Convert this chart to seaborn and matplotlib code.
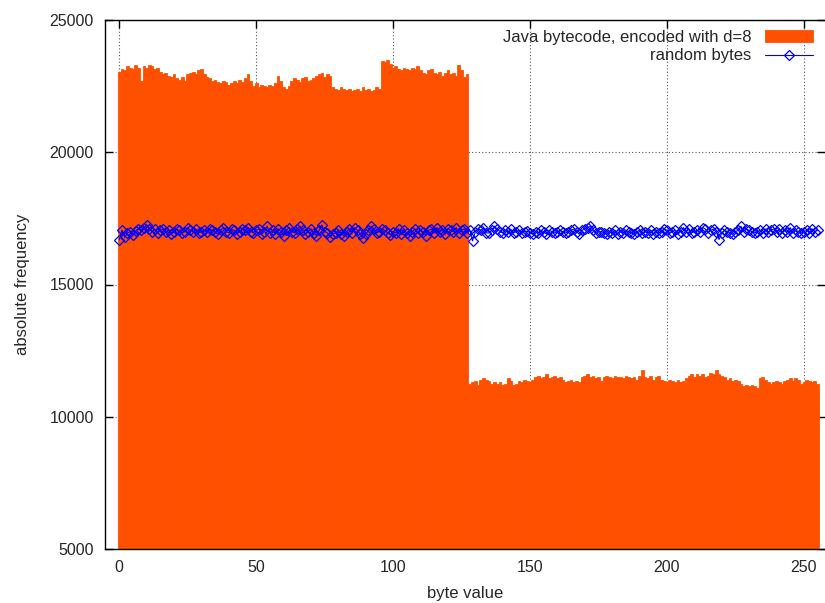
import numpy as np
import pandas as pd
import matplotlib
matplotlib.use("Agg")
import matplotlib.pyplot as plt
import seaborn as sns

# ---- data ----
byte_values = list(range(256))

java_counts = [
    23050, 23150, 23100, 23250, 23200, 23150, 23300, 23200, 22700, 23250, 23200, 23300, 23250, 23150, 23200, 23050,
    22950, 23000, 22900, 22850, 22950, 22800, 22750, 22850, 22700, 22950, 23000, 23050, 22950, 23100, 23150, 22950,
    22850, 22800, 22700, 22750, 22650, 22600, 22700, 22650, 22550, 22600, 22700, 22600, 22750, 22650, 22800, 22950,
    22700, 22500, 22600, 22450, 22550, 22500, 22450, 22550, 22500, 22600, 22900, 22700, 22450, 22400, 22500, 22700,
    22800, 22750, 22650, 22800, 22850, 22700, 22750, 22800, 22900, 22950, 23000, 22850, 22950, 22900, 22450, 22400,
    22350, 22450, 22400, 22350, 22400, 22300, 22350, 22400, 22300, 22450, 22350, 22400, 22300, 22350, 22450, 22400,
    23450, 23400, 23500, 23350, 23200, 23250, 23150, 23100, 23200, 23150, 23100, 23200, 23150, 23250, 23100, 23000,
    22950, 23100, 23150, 23000, 22950, 23050, 22900, 23000, 23100, 22950, 23000, 22900, 23300, 23100, 22850, 22950,
    11250, 11300, 11350, 11200, 11400, 11450, 11400, 11350, 11250, 11300, 11250, 11300, 11200, 11250, 11450, 11350,
    11200, 11250, 11350, 11300, 11400, 11350, 11300, 11400, 11500, 11550, 11450, 11500, 11600, 11450, 11500, 11550,
    11450, 11500, 11400, 11300, 11350, 11400, 11300, 11350, 11300, 11500, 11550, 11600, 11500, 11550, 11450, 11500,
    11350, 11500, 11550, 11500, 11450, 11550, 11500, 11500, 11450, 11550, 11500, 11450, 11500, 11400, 11550, 11750,
    11500, 11450, 11550, 11400, 11500, 11550, 11400, 11350, 11300, 11400, 11350, 11300, 11400, 11300, 11350, 11450,
    11550, 11600, 11500, 11600, 11550, 11600, 11500, 11550, 11650, 11600, 11750, 11600, 11550, 11500, 11400, 11450,
    11350, 11400, 11350, 11250, 11150, 11200, 11150, 11200, 11150, 11100, 11450, 11500, 11400, 11300, 11250, 11300,
    11350, 11300, 11250, 11350, 11400, 11450, 11350, 11450, 11400, 11250, 11300, 11400, 11350, 11300, 11350, 11250,
]

random_counts = [
    16680, 17050, 16780, 16950, 17000, 16880, 17020, 17100, 17050, 17150, 17250, 17100, 17000, 17080, 16950, 17050,
    17100, 16980, 17050, 16900, 17000, 17080, 17050, 16950, 17000, 17150, 17050, 16980, 17100, 16950, 17000, 17050,
    17000, 17100, 17050, 16980, 16900, 17050, 17150, 17000, 16950, 17080, 17050, 16920, 17000, 17100, 17050, 17150,
    17000, 16950, 17050, 17100, 16900, 17000, 17200, 16950, 17050, 16900, 17100, 17000, 16850, 17050, 17150, 17000,
    16950, 17100, 17200, 17050, 16900, 17000, 17100, 16950, 16850, 17050, 17250, 17000, 16950, 16800, 16900, 16950,
    17050, 16900, 16850, 17000, 17100, 16950, 17150, 17050, 16900, 16750, 16900, 17050, 17200, 17100, 16950, 17000,
    17100, 17050, 16950, 16880, 17000, 16950, 17100, 16900, 17050, 16950, 16850, 17000, 17100, 16950, 17050, 17000,
    16850, 17050, 17100, 16950, 17150, 17000, 17050, 16900, 17100, 17050, 17000, 17150, 16950, 17050, 17100, 16950,
    17050, 16650, 17000, 17100, 17050, 17150, 16950, 16950, 17050, 17200, 17100, 17000, 16950, 17050, 17000, 17080,
    16950, 17000, 17050, 16950, 17000, 17020, 16950, 16900, 17000, 16950, 17050, 17000, 16900, 17050, 17000, 16950,
    17000, 17050, 17000, 16950, 17000, 17050, 17100, 17000, 16900, 17050, 17100, 17150, 17200, 17050, 16950, 16980,
    17000, 16950, 16900, 17000, 16950, 17050, 16900, 17000, 16950, 17050, 17000, 16950, 16900, 17000, 17050, 16950,
    17000, 16950, 17050, 16900, 17000, 16950, 17000, 17100, 17050, 16950, 17000, 17050, 16900, 17000, 17150, 17000,
    17100, 16950, 17000, 17050, 17000, 17150, 17100, 16950, 17050, 17100, 17000, 16700, 16950, 17050, 17000, 16950,
    16900, 17000, 17050, 17200, 17000, 17100, 17050, 17000, 16950, 17000, 17050, 16950, 17100, 17000, 17050, 17100,
    17000, 17100, 16950, 17050, 17000, 17150, 16950, 17050, 17000, 16950, 17000, 17050, 16950, 17100, 17000, 17050,
]

x_ticks = [0, 50, 100, 150, 200, 250]
y_ticks = [5000, 10000, 15000, 20000, 25000]
series_labels = ["Java bytecode, encoded with d=8", "random bytes"]

# ---- plot ----
sns.set_style("white")
plt.rcParams["font.family"] = ["Liberation Sans", "DejaVu Sans"]

fig = plt.figure(figsize=(8.25, 6.03), dpi=100)
ax = fig.add_axes([105 / 825, 54 / 603, 720 / 825, 529 / 603])

df_java = pd.DataFrame({"byte": byte_values, "count": java_counts})
df_rand = pd.DataFrame({"byte": byte_values, "count": random_counts})

sns.barplot(data=df_java, x="byte", y="count", native_scale=True, width=1.0,
            color="#ff5000", saturation=1, linewidth=0.6, edgecolor="#ff5000",
            ax=ax, label=series_labels[0], zorder=2)
sns.lineplot(data=df_rand, x="byte", y="count", color="#0000ff", linewidth=0.8,
             marker="D", markersize=4.6, markerfacecolor="none",
             markeredgecolor="#0000ff", markeredgewidth=0.9, ax=ax,
             label=series_labels[1], zorder=3)

ax.set_xlim(-5.2, 257.7)
ax.set_ylim(5000, 25000)
ax.set_xticks(x_ticks)
ax.set_yticks(y_ticks)
ax.set_xticklabels([str(t) for t in x_ticks])
ax.set_yticklabels([str(t) for t in y_ticks])

ax.grid(True, which="major", linestyle=(0, (1, 2)), color="#555555", linewidth=0.8, zorder=0)
ax.set_axisbelow(True)

ax.tick_params(axis="both", which="major", direction="in", length=6, width=1,
               labelsize=11.5, top=True, right=True, bottom=True, left=True,
               pad=8, color="black")
for s in ax.spines.values():
    s.set_color("black")
    s.set_linewidth(1.0)
ax.spines["right"].set_visible(False)

ax.set_xlabel("byte value", fontsize=12, labelpad=8)
ax.set_ylabel("absolute frequency", fontsize=12, labelpad=14)

handles, labels = ax.get_legend_handles_labels()
order = [labels.index(series_labels[0]), labels.index(series_labels[1])]
leg = ax.legend([handles[i] for i in order], [labels[i] for i in order],
                loc="upper right", bbox_to_anchor=(0.997, 1.0), frameon=False,
                markerfirst=False, fontsize=12, handlelength=2.9,
                handletextpad=0.8, labelspacing=0.2, borderaxespad=0.2)

fig.savefig("out.png", dpi=100)
